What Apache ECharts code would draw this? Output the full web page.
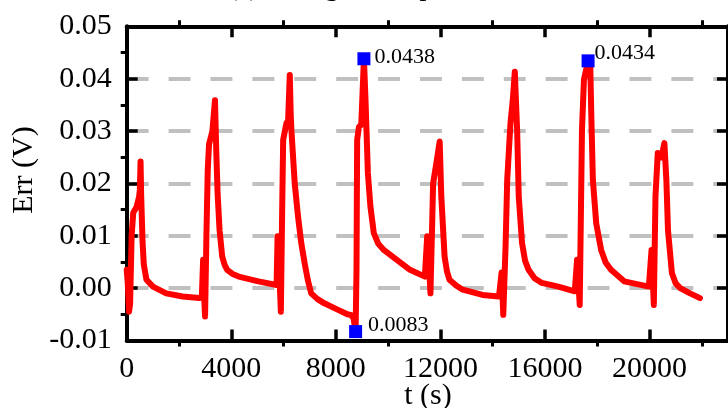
<!DOCTYPE html>
<html>
<head>
<meta charset="utf-8">
<script src="https://cdn.jsdelivr.net/npm/echarts@6/dist/echarts.min.js"></script>
<style>
  html, body { margin: 0; padding: 0; background: #fff; }
  #chart { width: 728px; height: 408px; }
</style>
</head>
<body>
<div id="chart"></div>
<script>
// Voltage error over time for eight load pulses
var timeS = [
  0, 40, 90, 130, 189, 250, 378, 477, 503, 530, 552, 605, 654, 756, 1005, 1513, 2140, 2772,
  2873, 2923, 2961, 2998, 3049, 3100, 3150, 3276, 3338, 3377, 3427, 3478, 3553, 3654, 3750, 3843, 4050, 4285, 5040, 5733,
  5771, 5822, 5897, 5947, 5985, 6111, 6174, 6238, 6275, 6300, 6427, 6553, 6680, 6805, 6930, 7057, 7300, 7561, 8065, 8442,
  8569, 8680, 8756, 8790, 8815, 8884, 8972, 9074, 9135, 9173, 9225, 9324, 9452, 9620, 9831, 10333, 10837, 11404,
  11494, 11569, 11619, 11683, 11720, 11846, 11972, 12034, 12160, 12250, 12348, 12600, 12854, 13610, 14239,
  14341, 14404, 14492, 14555, 14680, 14769, 14845, 14934, 14996, 15122, 15240, 15373, 15600, 15879, 16508, 17139,
  17227, 17328, 17415, 17490, 17648, 17732, 17770, 17831, 17959, 18147, 18320, 18525, 19029, 19974,
  20075, 20163, 20226, 20314, 20390, 20453, 20567, 20642, 20704, 20854, 21000, 21172, 21550, 21928
];
var errV = [
  0.0035, 0.001, -0.0045, -0.003, 0.010, 0.0144, 0.0155, 0.0175, 0.0188, 0.0242, 0.018, 0.009, 0.0045, 0.0016, 0.0003, -0.001, -0.0016, -0.0019,
  -0.0018, 0.0054, -0.0015, -0.0054, 0.010, 0.0226, 0.0275, 0.0299, 0.030, 0.0359, 0.026, 0.018, 0.011, 0.006, 0.0044, 0.0035, 0.0027, 0.0022, 0.0013, 0.0006,
  0.0099, 0.005, -0.0045, 0.015, 0.0283, 0.0315, 0.032, 0.0407, 0.033, 0.0302, 0.020, 0.0137, 0.0085, 0.0048, 0.0015, -0.001, -0.0021, -0.0029, -0.0041, -0.005,
  -0.0051, -0.0058, -0.0083, 0.0035, 0.0283, 0.0308, 0.0312, 0.0438, 0.0359, 0.030, 0.022, 0.0155, 0.0105, 0.0085, 0.0073, 0.0054, 0.0035, 0.0022,
  0.0099, 0.004, -0.001, 0.012, 0.020, 0.0239, 0.028, 0.0175, 0.006, 0.0032, 0.0016, 0.0005, -0.0003, -0.0013, -0.0016,
  0.003, -0.0051, 0.008, 0.0207, 0.0315, 0.036, 0.0413, 0.0302, 0.0175, 0.0086, 0.0052, 0.0035, 0.0019, 0.001, 0.0003, -0.0006,
  0.0054, -0.0032, 0.0302, 0.0398, 0.0434, 0.0425, 0.0334, 0.0207, 0.0124, 0.0073, 0.0049, 0.0035, 0.0013, 0.0003,
  0.0073, -0.0032, 0.0175, 0.0258, 0.026, 0.025, 0.0277, 0.0207, 0.0111, 0.0029, 0.0009, 0, -0.001, -0.0019
];

// Highlighted extremes
var extremeT = [9074, 8756, 17648];
var extremeV = [0.0438, -0.0083, 0.0434];

// Axis settings
var xMin = 0, xMax = 23000, xStep = 4000;
var yMin = -0.01, yMax = 0.05, yStep = 0.01;

var serif = 'Liberation Serif';

var lineData = timeS.map(function (t, i) { return [t, errV[i]]; });
var labelShift = [[0, -2], [2, -6], [-4, -8]];
var extremeData = extremeT.map(function (t, i) {
  return {
    value: [t, extremeV[i]],
    label: { offset: labelShift[i] }
  };
});

var chart = echarts.init(document.getElementById('chart'), null, { renderer: 'canvas' });

function frameAxis(extra) {
  var base = {
    axisLine: { show: true, onZero: false, lineStyle: { color: '#000', width: 4 } },
    axisTick: { show: true, inside: true, length: 11, lineStyle: { color: '#000', width: 3.5 } },
    minorTick: { show: true, splitNumber: 2, length: -6, lineStyle: { color: '#000', width: 3 } },
    splitLine: { show: false }
  };
  for (var k in extra) base[k] = extra[k];
  return base;
}

chart.setOption({
  animation: false,
  backgroundColor: '#fff',
  grid: { left: 126.7, top: 26.3, width: 608.4, height: 314.2, containLabel: false },
  graphic: [
    {
      type: 'text', left: 228, top: -26,
      style: { text: '(a) Voltage error prediction', font: '28px "Liberation Serif"', fill: '#000' }
    },
    {
      type: 'text', x: 24.5, y: 170, rotation: Math.PI / 2,
      style: { text: 'Err (V)', font: '30px "Liberation Serif"', fill: '#000', align: 'center', verticalAlign: 'middle' }
    },
    {
      type: 'text', x: 428, y: 396,
      style: { text: 't (s)', font: '30px "Liberation Serif"', fill: '#000', align: 'center', verticalAlign: 'middle' }
    }
  ],
  xAxis: [
    frameAxis({
      type: 'value', position: 'bottom', min: xMin, max: xMax, interval: xStep,
      axisLabel: {
        color: '#000', fontFamily: serif, fontSize: 30, margin: 14,
        showMaxLabel: false,
        formatter: function (v) { return String(v); }
      }
    }),
    frameAxis({
      type: 'value', position: 'top', min: xMin, max: xMax, interval: xStep,
      axisLabel: { show: false }
    })
  ],
  yAxis: [
    frameAxis({
      type: 'value', position: 'left', min: yMin, max: yMax, interval: yStep,
      splitLine: { show: true, lineStyle: { color: '#c0c0c0', width: 4, type: [21.9, 20] } },
      axisLabel: {
        color: '#000', fontFamily: serif, fontSize: 30, margin: 15,
        formatter: function (v) { return v.toFixed(2); }
      }
    }),
    frameAxis({
      type: 'value', position: 'right', min: yMin, max: yMax, interval: yStep,
      axisLabel: { show: false }
    })
  ],
  series: [
    {
      type: 'line', xAxisIndex: 0, yAxisIndex: 0,
      data: lineData,
      showSymbol: false, symbol: 'none',
      lineStyle: { color: '#ff0000', width: 6, join: 'round', cap: 'round' },
      z: 3
    },
    {
      type: 'scatter', xAxisIndex: 0, yAxisIndex: 0,
      data: extremeData,
      symbol: 'rect', symbolSize: 13,
      itemStyle: { color: '#0000ff', opacity: 1 },
      label: {
        show: true, position: 'right', distance: 4,
        color: '#000', fontFamily: serif, fontSize: 22,
        formatter: function (p) { return Math.abs(p.value[1]).toFixed(4); }
      },
      z: 5
    }
  ]
});
</script>
</body>
</html>
